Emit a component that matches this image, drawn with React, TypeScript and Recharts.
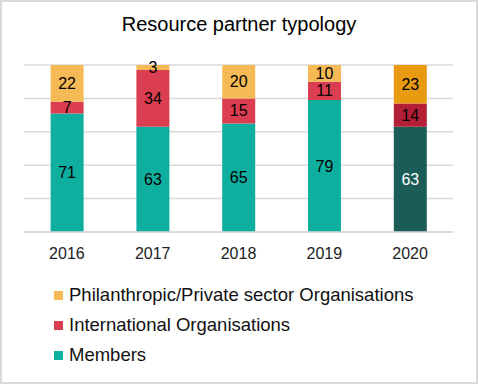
import React from 'react';
import { BarChart, Bar, XAxis, YAxis, CartesianGrid, LabelList, Cell, Legend } from 'recharts';

const years = ['2016', '2017', '2018', '2019', '2020'];
const members = [71, 63, 65, 79, 63];
const international = [7, 34, 15, 11, 14];
const philanthropic = [22, 3, 20, 10, 23];

const series = [
  { key: 'members', name: 'Members', color: '#0fafa0', dark: '#1b5c57', label: '#000', darkLabel: '#fff' },
  { key: 'international', name: 'International Organisations', color: '#dc3e51', dark: '#b31f37', label: '#000', darkLabel: '#000' },
  { key: 'philanthropic', name: 'Philanthropic/Private sector Organisations', color: '#f5ba55', dark: '#e89a10', label: '#000', darkLabel: '#000' },
];

const data = years.map((year, i) => ({
  year,
  members: members[i],
  international: international[i],
  philanthropic: philanthropic[i],
}));

const FONT = 'Arial, "Liberation Sans", sans-serif';

const renderLegend = () => (
  <div style={{ fontFamily: FONT, fontSize: 18.5, color: '#111' }}>
    {[...series].reverse().map(s => (
      <div key={s.key} style={{ display: 'flex', alignItems: 'center', height: 30 }}>
        <span style={{ width: 9, height: 9, background: s.color, marginRight: 6, display: 'inline-block' }} />
        {s.name}
      </div>
    ))}
  </div>
);

export default function App() {
  return (
    <div
      style={{
        position: 'absolute',
        left: 0,
        top: 0,
        width: 478,
        height: 384,
        boxSizing: 'border-box',
        border: '2px solid #d9d9d9',
        background: '#fff',
        fontFamily: FONT,
      }}
    >
      <div style={{ position: 'absolute', top: 11, width: '100%', textAlign: 'center', fontSize: 20, color: '#000' }}>
        Resource partner typology
      </div>
      <BarChart
        width={474}
        height={380}
        data={data}
        margin={{ top: 63, right: 23, left: 22, bottom: 30 }}
        barCategoryGap="31%"
      >
        <CartesianGrid vertical={false} stroke="#d9d9d9" strokeWidth={1.5} />
        <YAxis hide domain={[0, 100]} ticks={[0, 20, 40, 60, 80, 100]} />
        <XAxis
          dataKey="year"
          axisLine={{ stroke: '#d9d9d9', strokeWidth: 1.5 }}
          tickLine={false}
          tickSize={0}
          tickMargin={16}
          tick={{ fill: '#222', fontSize: 16, fontFamily: FONT }}
        />
        <Legend
          verticalAlign="bottom"
          content={renderLegend}
          wrapperStyle={{ top: 278, left: 52, height: 90, width: 410 }}
        />
        {series.map(s => (
          <Bar key={s.key} dataKey={s.key} name={s.name} stackId="a" fill={s.color} isAnimationActive={false}>
            {years.map((y, i) => (
              <Cell key={y} fill={i === years.length - 1 ? s.dark : s.color} />
            ))}
            <LabelList
              dataKey={s.key}
              content={(props: any) => {
                const { x, y, width, height, value, index } = props;
                return (
                  <text
                    x={x + width / 2}
                    y={y + height / 2}
                    textAnchor="middle"
                    dominantBaseline="central"
                    fontSize={16}
                    fontFamily={FONT}
                    fill={index === years.length - 1 ? s.darkLabel : s.label}
                  >
                    {value}
                  </text>
                );
              }}
            />
          </Bar>
        ))}
      </BarChart>
    </div>
  );
}
